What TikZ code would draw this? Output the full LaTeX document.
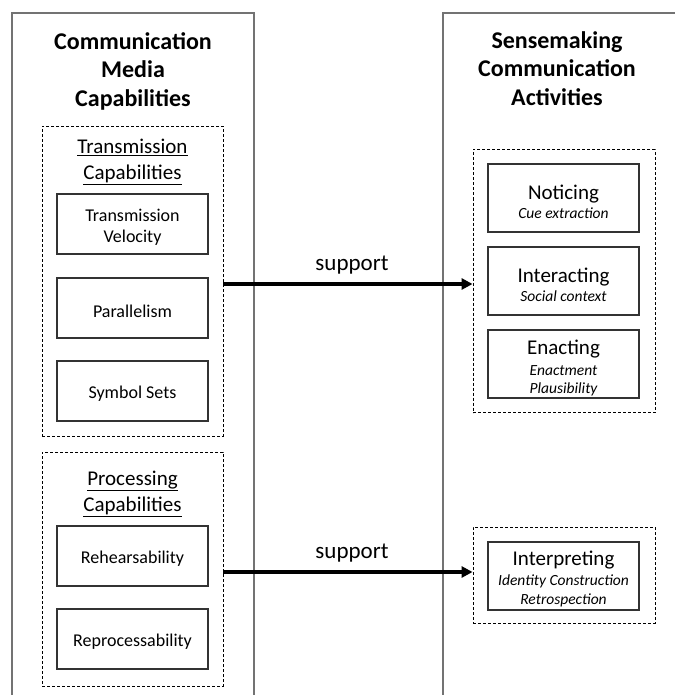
\documentclass[tikz,border=0pt]{standalone}
\usepackage{fontspec}
\setmainfont{Carlito}
\usetikzlibrary{arrows.meta}
\begin{document}
\begin{tikzpicture}[x=1pt,y=-1pt,
  frame/.style={draw=black!55, line width=1.5pt},
  group/.style={draw=black, dash pattern=on 3pt off 2pt, line width=0.9pt,
    minimum width=181pt, inner sep=0pt},
  capbox/.style={draw=black!80, line width=1.2pt, minimum width=151pt,
    minimum height=60pt, inner sep=0pt},
  captext/.style={align=center, inner sep=0pt, yshift=-3pt,
    font=\fontsize{18}{21}\selectfont},
  actbox/.style={draw=black!80, line width=1.2pt, minimum width=151pt,
    minimum height=68pt, inner sep=0pt},
  acttext/.style={align=center, inner sep=0pt, yshift=-4pt,
    font=\fontsize{15.5}{18.5}\selectfont},
  title/.style={align=center, font=\fontsize{24}{28.5}\selectfont\bfseries},
  heading/.style={align=center, font=\fontsize{21}{26}\selectfont},
  support/.style={-{Triangle[length=11pt,width=11pt]}, line width=4pt},
  lbl/.style={font=\fontsize{23}{26}\selectfont}
]
\useasboundingbox (0,0) rectangle (675,695);

% outer column frames (open at the bottom)
\draw[frame] (12,695) -- (12,13) -- (254,13) -- (254,695);
\draw[frame] (443,695) -- (443,13) -- (675,13);

% column titles
\node[title] (ltitle) at (133,71) {Communication\\Media\\Capabilities};
\node[title] (rtitle) at (557,68.5) {Sensemaking\\Communication\\Activities};

% capability groups
\node[group, minimum height=310pt] (tgroup) at (132.5,281) {};
\node[group, minimum height=234pt] (pgroup) at (132.5,569) {};
\node[heading] (thead) at (132.5,162) {\underline{Transmission}\\\underline{Capabilities}};
\node[heading] (phead) at (132.5,493.5) {\underline{Processing}\\\underline{Capabilities}};

\node[capbox, label={[captext, name=velocity-t]center:Transmission\\Velocity}]
  (velocity) at (132.5,224) {};
\node[capbox, label={[captext, name=parallel-t]center:Parallelism}]
  (parallel) at (132.5,308) {};
\node[capbox, label={[captext, name=symbols-t]center:Symbol Sets}]
  (symbols) at (132.5,391) {};
\node[capbox, label={[captext, name=rehearse-t]center:Rehearsability}]
  (rehearse) at (132.5,556) {};
\node[capbox, label={[captext, name=reproc-t]center:Reprocessability}]
  (reproc) at (132.5,639) {};

% sensemaking activity groups
\node[group, minimum height=263pt, minimum width=182pt] (agroup) at (564,281) {};
\node[group, minimum height=96pt, minimum width=182pt] (igroup) at (564,575) {};

\node[actbox, label={[acttext, name=notice-t]center:{\fontsize{21}{21}\selectfont Noticing}\\[0pt]{\itshape Cue extraction}}]
  (notice) at (563.5,198) {};
\node[actbox, label={[acttext, name=interact-t]center:{\fontsize{21}{21}\selectfont Interacting}\\[0pt]{\itshape Social context}}]
  (interact) at (563.5,281) {};
\node[actbox, label={[acttext, name=enact-t]center:{\fontsize{21}{21}\selectfont Enacting}\\[2pt]{\itshape Enactment}\\{\itshape Plausibility}}]
  (enact) at (563.5,364) {};
\node[actbox, label={[acttext, yshift=1.5pt, name=interpret-t]center:{\fontsize{21}{21}\selectfont Interpreting}\\[2pt]{\itshape Identity Construction}\\{\itshape Retrospection}}]
  (interpret) at (563.5,576) {};

% support relations
\draw[support] ([yshift=-3pt]tgroup.east) -- ([yshift=-3pt]agroup.west)
  node[lbl, midway, yshift=19pt, xshift=4pt] (sup1) {support};
\draw[support] ([yshift=-3pt]pgroup.east) -- ([yshift=3pt]igroup.west)
  node[lbl, midway, yshift=19pt, xshift=4pt] (sup2) {support};
\end{tikzpicture}
\end{document}
